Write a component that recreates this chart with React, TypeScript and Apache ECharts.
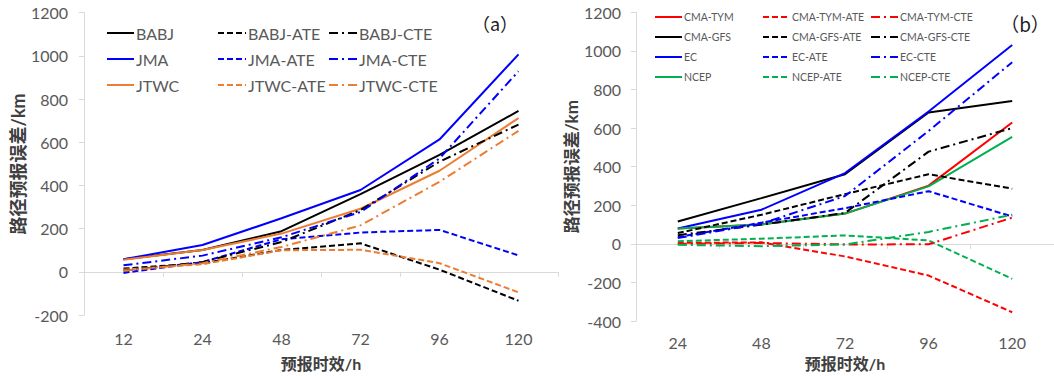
import React, { useEffect, useRef } from "react";
import * as echarts from "echarts";

const leftCats = ["12", "24", "48", "72", "96", "120"];
const rightCats = ["24", "48", "72", "96", "120"];

// Panel (a)
const babj = [58, 101, 188, 360, 542, 745];
const jma = [58, 124, 248, 379, 613, 1007];
const jtwc = [56, 101, 177, 292, 468, 712];
const babjAte = [15, 40, 101, 132, 10, -134];
const jmaAte = [-5, 45, 151, 182, 194, 76];
const jtwcAte = [10, 35, 100, 102, 40, -95];
const babjCte = [5, 45, 138, 286, 510, 682];
const jmaCte = [30, 75, 160, 277, 525, 929];
const jtwcCte = [5, 40, 115, 215, 417, 653];

// Panel (b)
const cmaTym = [80, 101, 157, 302, 629];
const cmaGfs = [116, 237, 361, 681, 740];
const ec = [80, 177, 367, 686, 1031];
const ncep = [80, 100, 157, 298, 554];
const cmaTymAte = [5, 8, -65, -164, -354];
const cmaGfsAte = [56, 151, 258, 361, 286];
const ecAte = [35, 110, 185, 273, 142];
const ncepAte = [14, 27, 44, 18, -181];
const cmaTymCte = [0, 5, -3, -2, 136];
const cmaGfsCte = [45, 100, 160, 478, 600];
const ecCte = [30, 105, 248, 585, 941];
const ncepCte = [-5, -12, -3, 62, 151];

const BLACK = "#000000";
const BLUE = "#0000ff";
const ORANGE = "#ed7d31";
const RED = "#ff0000";
const GREEN = "#00b050";

const DASH = [6, 3];
const DASHDOT = [9, 4, 2, 4];

const FONT = "Lato, 'Noto Sans CJK SC', sans-serif";
const CJK = "'Noto Sans CJK SC', sans-serif";
const LABEL = "#595959";
const AXIS = "#d9d9d9";

function mk(name: string, data: number[], color: string, type: any, idx: number) {
  return {
    name,
    type: "line",
    data,
    xAxisIndex: idx,
    yAxisIndex: idx,
    symbol: "none",
    color,
    lineStyle: { color, width: 2, type },
    emphasis: { disabled: true },
  };
}

function legend(data: string[], left: number, top: number, fontSize: number, lineH: number, gap: number, w: number) {
  return {
    data,
    orient: "vertical",
    left,
    top,
    padding: 0,
    itemWidth: w,
    itemHeight: 10,
    itemGap: gap,
    selectedMode: false,
    itemStyle: { opacity: 0 },
    textStyle: { fontFamily: FONT, fontSize, color: LABEL, lineHeight: lineH, padding: [0, 0, 0, -3] },
  };
}

export default function App() {
  const ref = useRef<HTMLDivElement>(null);
  useEffect(() => {
    const chart = echarts.init(ref.current!, null, { renderer: "svg" });
    const xAxisCommon = {
      type: "category",
      boundaryGap: true,
      axisLine: { lineStyle: { color: AXIS, width: 1 } },
      axisTick: { show: true, length: 5, lineStyle: { color: AXIS } },
      splitLine: { show: false },
      nameLocation: "middle",
      nameTextStyle: { fontFamily: FONT, fontSize: 16, fontWeight: "bold", color: "#404040" },
    };
    const yAxisCommon = {
      type: "value",
      interval: 200,
      axisLine: { show: true, lineStyle: { color: AXIS, width: 1 } },
      axisTick: { show: true, length: 5, lineStyle: { color: AXIS } },
      splitLine: { show: false },
      nameLocation: "middle",
      nameRotate: 90,
    };
    const fmt = (v: number) => String(v);
    chart.setOption({
      animation: false,
      grid: [
        { left: 84, top: 12.7, width: 474, height: 302.8 },
        { left: 636, top: 12.3, width: 420, height: 314.2 },
      ],
      xAxis: [
        {
          ...xAxisCommon,
          gridIndex: 0,
          data: leftCats,
          name: "预报时效/h",
          nameGap: 40,
          axisLabel: { fontFamily: FONT, fontSize: 16, color: LABEL, margin: 15 },
        },
        {
          ...xAxisCommon,
          gridIndex: 1,
          data: rightCats,
          name: "预报时效/h",
          nameGap: 33,
          axisLabel: { fontFamily: FONT, fontSize: 16, color: LABEL, margin: 13 },
        },
      ],
      yAxis: [
        {
          ...yAxisCommon,
          gridIndex: 0,
          min: -200,
          max: 1200,
          name: "路径预报误差/km",
          nameGap: 54,
          nameTextStyle: { fontFamily: FONT, fontSize: 18, fontWeight: "bold", color: "#404040" },
          axisLabel: { fontFamily: FONT, fontSize: 16, color: LABEL, margin: 16, formatter: fmt },
        },
        {
          ...yAxisCommon,
          gridIndex: 1,
          min: -400,
          max: 1200,
          name: "路径预报误差/km",
          nameGap: 45,
          nameTextStyle: { fontFamily: FONT, fontSize: 17, fontWeight: "bold", color: "#404040" },
          axisLabel: { fontFamily: FONT, fontSize: 16, color: LABEL, margin: 15, formatter: fmt },
        },
      ],
      legend: [
        legend(["BABJ", "JMA", "JTWC"], 106, 24, 16, 18, 8, 27),
        legend(["BABJ-ATE", "JMA-ATE", "JTWC-ATE"], 217, 24, 16, 18, 8, 28),
        legend(["BABJ-CTE", "JMA-CTE", "JTWC-CTE"], 328, 24, 16, 18, 8, 28),
        legend(["CMA-TYM", "CMA-GFS", "EC", "NCEP"], 654, 10, 10.5, 14, 6, 27),
        legend(["CMA-TYM-ATE", "CMA-GFS-ATE", "EC-ATE", "NCEP-ATE"], 762, 10, 10.5, 14, 6, 27),
        legend(["CMA-TYM-CTE", "CMA-GFS-CTE", "EC-CTE", "NCEP-CTE"], 870, 10, 10.5, 14, 6, 27),
      ],
      graphic: [
        {
          type: "text",
          x: 495,
          y: 23,
          style: { text: "（a）", font: `18px ${CJK}`, fill: "#222", align: "center", verticalAlign: "middle" },
        },
        {
          type: "text",
          x: 1025,
          y: 23,
          style: { text: "（b）", font: `19px ${CJK}`, fill: "#222", align: "center", verticalAlign: "middle" },
        },
      ],
      series: [
        mk("BABJ", babj, BLACK, "solid", 0),
        mk("JMA", jma, BLUE, "solid", 0),
        mk("JTWC", jtwc, ORANGE, "solid", 0),
        mk("BABJ-ATE", babjAte, BLACK, DASH, 0),
        mk("JMA-ATE", jmaAte, BLUE, DASH, 0),
        mk("JTWC-ATE", jtwcAte, ORANGE, DASH, 0),
        mk("BABJ-CTE", babjCte, BLACK, DASHDOT, 0),
        mk("JMA-CTE", jmaCte, BLUE, DASHDOT, 0),
        mk("JTWC-CTE", jtwcCte, ORANGE, DASHDOT, 0),
        mk("CMA-TYM", cmaTym, RED, "solid", 1),
        mk("CMA-GFS", cmaGfs, BLACK, "solid", 1),
        mk("EC", ec, BLUE, "solid", 1),
        mk("NCEP", ncep, GREEN, "solid", 1),
        mk("CMA-TYM-ATE", cmaTymAte, RED, DASH, 1),
        mk("CMA-GFS-ATE", cmaGfsAte, BLACK, DASH, 1),
        mk("EC-ATE", ecAte, BLUE, DASH, 1),
        mk("NCEP-ATE", ncepAte, GREEN, DASH, 1),
        mk("CMA-TYM-CTE", cmaTymCte, RED, DASHDOT, 1),
        mk("CMA-GFS-CTE", cmaGfsCte, BLACK, DASHDOT, 1),
        mk("EC-CTE", ecCte, BLUE, DASHDOT, 1),
        mk("NCEP-CTE", ncepCte, GREEN, DASHDOT, 1),
      ],
    });
    return () => chart.dispose();
  }, []);
  return (
    <div
      ref={ref}
      style={{ position: "fixed", left: 0, top: 0, width: 1054, height: 376, background: "#fff" }}
    />
  );
}
